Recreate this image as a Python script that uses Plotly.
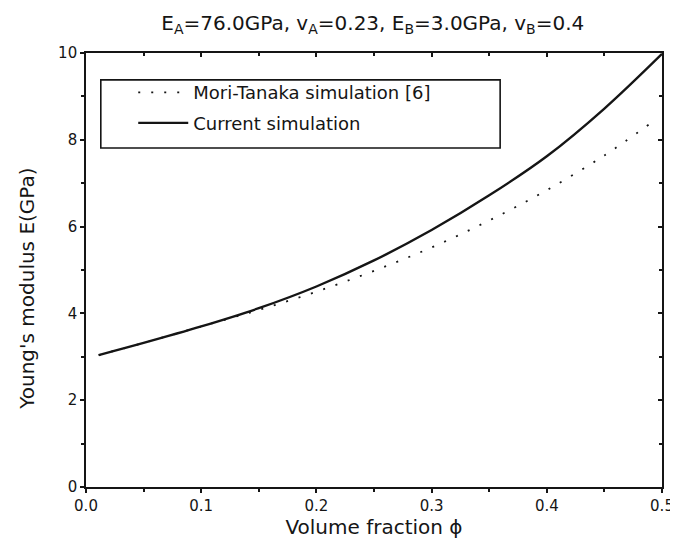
import plotly.graph_objects as go

# Data
phi_current = [0.011, 0.05, 0.1, 0.15, 0.2, 0.25, 0.3, 0.35, 0.4, 0.45, 0.5]
E_current = [3.04, 3.32, 3.70, 4.12, 4.62, 5.22, 5.92, 6.72, 7.62, 8.72, 9.98]

phi_mt = [0.011, 0.05, 0.1, 0.15, 0.2, 0.25, 0.3, 0.35, 0.4, 0.45, 0.489]
E_mt = [3.04, 3.32, 3.70, 4.08, 4.50, 4.98, 5.52, 6.14, 6.84, 7.64, 8.36]

x_ticks = [0.0, 0.1, 0.2, 0.3, 0.4, 0.5]
x_ticklabels = ["0.0", "0.1", "0.2", "0.3", "0.4", "0.5"]
y_ticks = [0, 2, 4, 6, 8, 10]

FONT = "DejaVu Sans, Liberation Sans, Arial, sans-serif"
INK = "#151515"

fig = go.Figure()
fig.add_trace(go.Scatter(
    x=phi_mt, y=E_mt, mode="lines", name="Mori-Tanaka simulation [6]",
    legendgroup="a",
    line=dict(color=INK, width=1.8, dash="2px,11px", shape="spline"),
))
fig.add_trace(go.Scatter(
    x=phi_current, y=E_current, mode="lines", name="Current simulation",
    legendgroup="b",
    line=dict(color=INK, width=2.4, shape="spline"),
))
# helper trace for the mirrored top/right axes
fig.add_trace(go.Scatter(x=[0.25], y=[5], xaxis="x2", yaxis="y2", mode="markers",
                         marker=dict(opacity=0), showlegend=False, hoverinfo="skip"))

axis_common = dict(showgrid=False, zeroline=False, showline=True, linecolor=INK,
                   linewidth=1.6, tickcolor=INK, tickwidth=1.5, ticklen=4)

fig.update_layout(
    width=678, height=538,
    margin=dict(l=78, r=16, t=45, b=59),
    plot_bgcolor="white", paper_bgcolor="white",
    font=dict(family=FONT, color=INK, size=15),
    title=dict(
        text="E<sub>A</sub>=76.0GPa, v<sub>A</sub>=0.23, E<sub>B</sub>=3.0GPa, v<sub>B</sub>=0.4",
        x=0.538, xanchor="center", y=0.972, yanchor="middle",
        font=dict(size=20, family=FONT),
    ),
    xaxis=dict(range=[0, 0.5], tickvals=x_ticks, ticktext=x_ticklabels, ticks="outside",
               minor=dict(dtick=0.05, ticks="outside", ticklen=3, tickcolor=INK),
               title=dict(text="Volume fraction ϕ", font=dict(size=20), standoff=4),
               tickfont=dict(size=15), **axis_common),
    yaxis=dict(range=[0, 10], tickvals=y_ticks, ticks="outside",
               minor=dict(dtick=1, ticks="outside", ticklen=3, tickcolor=INK),
               tickfont=dict(size=15), **axis_common),
    xaxis2=dict(range=[0, 0.5], overlaying="x", side="top", anchor="y2",
                tickvals=x_ticks, showticklabels=False, ticks="inside",
                minor=dict(dtick=0.05, ticks="inside", ticklen=3, tickcolor=INK),
                **axis_common),
    yaxis2=dict(range=[0, 10], overlaying="y", side="right", anchor="x2",
                tickvals=y_ticks, showticklabels=False, ticks="inside",
                minor=dict(dtick=1, ticks="inside", ticklen=3, tickcolor=INK),
                **axis_common),
    legend=dict(x=0.082, y=0.951, xanchor="left", yanchor="top",
                borderwidth=0, bgcolor="rgba(0,0,0,0)",
                font=dict(size=18, family=FONT), itemwidth=50,
                traceorder="grouped", tracegroupgap=4),
    shapes=[dict(type="rect", xref="paper", yref="paper",
                 x0=0.0257, x1=0.719, y0=0.781, y1=0.938,
                 line=dict(color=INK, width=1.6), fillcolor="rgba(0,0,0,0)", layer="below")],
    annotations=[dict(text="Young's modulus E(GPa)", textangle=-90,
                      xref="paper", yref="paper",
                      x=(18 - 78) / 584, y=(479 - 281) / 434,
                      xanchor="center", yanchor="middle", showarrow=False,
                      font=dict(size=20, family=FONT, color=INK))],
    showlegend=True,
)

fig.write_html("out.html")
